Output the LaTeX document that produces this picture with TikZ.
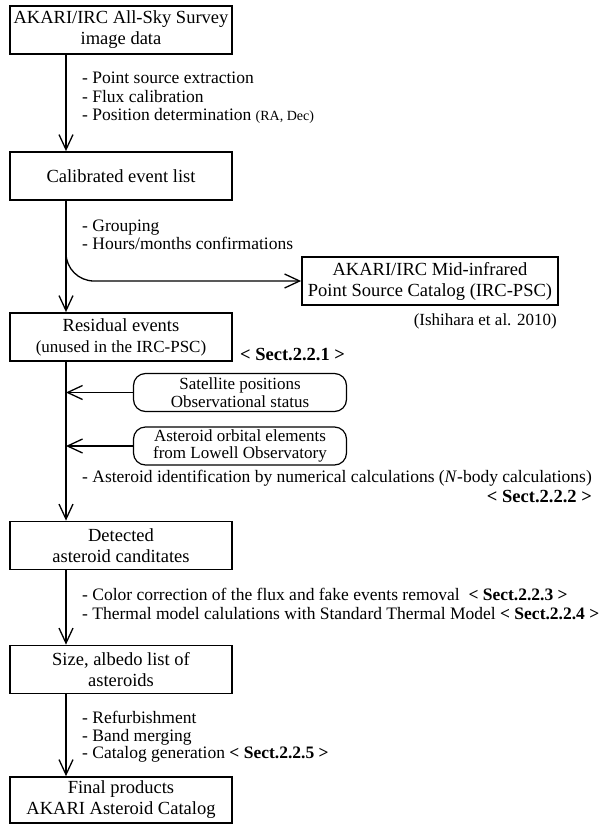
\documentclass[tikz,border=0pt]{standalone}
\usepackage{fontspec}
\setmainfont{Liberation Serif}
\usetikzlibrary{arrows.meta}
\begin{document}
\begin{tikzpicture}[x=1pt,y=-1pt,
    stepbox/.style={draw,line width=1.8pt,minimum width=222pt,minimum height=48pt,
      align=center,inner sep=2pt,font=\fontsize{18.5}{21}\selectfont},
    srcbox/.style={draw,line width=1.2pt,rounded corners=12pt,minimum width=213pt,
      minimum height=38pt,align=center,inner sep=1pt,font=\fontsize{17}{17.5}\selectfont},
    flow/.style={line width=1.3pt,-{Straight Barb[length=15pt,width=14pt,line width=1.3pt]}},
    note/.style={anchor=west,align=left,inner sep=0pt,font=\fontsize{17.5}{18.5}\selectfont},
    sect/.style={inner sep=0pt,font=\fontsize{18.5}{19}\selectfont\bfseries}]
  \useasboundingbox (0,0) rectangle (600,825);
  \coordinate (spine) at (66,0);
  \coordinate (fork) at (66,240);

  \node[stepbox] (survey) at (121,30) {AKARI/IRC All-Sky Survey\\image data};
  \node[stepbox] (events) at (121,176) {Calibrated event list};
  \node[stepbox] (residual) at (121,337) {Residual events\\{\fontsize{17}{18}\selectfont (unused in the IRC-PSC)}};
  \node[stepbox] (candidates) at (121,545.5) {Detected\\asteroid canditates};
  \node[stepbox] (sizes) at (121,669.5) {Size, albedo list of\\asteroids};
  \node[stepbox,minimum height=46pt] (final) at (121,800) {Final products\\AKARI Asteroid Catalog};

  \node[stepbox,minimum width=256pt] (psc) at (430,281) {AKARI/IRC Mid-infrared\\Point Source Catalog (IRC-PSC)};
  \node[anchor=east,inner sep=0pt,font=\fontsize{17}{18}\selectfont] (ishihara) at (557,321) {(Ishihara et al. 2010)};
  \node[srcbox] (satellite) at (240,392.5) {Satellite positions\\Observational status};
  \node[srcbox] (orbits) at (240,446) {Asteroid orbital elements\\from Lowell Observatory};

  \node[note] (extraction) at (82,98) {- Point source extraction\\- Flux calibration\\- Position determination {\fontsize{14}{14}\selectfont (RA, Dec)}};
  \node[note] (grouping) at (82,235) {- Grouping\\- Hours/months confirmations};
  \node[sect,anchor=west] (sect1) at (240,355) {< Sect.2.2.1 >};
  \node[note] (identify) at (82,478) {- Asteroid identification by numerical calculations (\textit{N}-body calculations)};
  \node[sect,anchor=east] (sect2) at (identify.east |- 0,496) {< Sect.2.2.2 >};
  \node[note] (thermal) at (82,604) {- Color correction of the flux and fake events removal \ \textbf{< Sect.2.2.3 >}\\- Thermal model calulations with Standard Thermal Model \textbf{< Sect.2.2.4 >}};
  \node[note,font=\fontsize{17.5}{17.5}\selectfont] (merging) at (82,737) {- Refurbishment\\- Band merging\\- Catalog generation \textbf{< Sect.2.2.5 >}};

  \draw[flow] (survey.south -| spine) -- (events.north -| spine);
  \draw[flow] (events.south -| spine) -- (residual.north -| spine);
  \draw[flow,rounded corners=28pt] (fork) |- (psc.west);
  \draw[flow] (residual.south -| spine) -- (candidates.north -| spine);
  \draw[flow] (satellite.west) -- (satellite.west -| spine);
  \draw[flow] (orbits.west) -- (orbits.west -| spine);
  \draw[flow] (candidates.south -| spine) -- (sizes.north -| spine);
  \draw[flow] (sizes.south -| spine) -- (final.north -| spine);
\end{tikzpicture}
\end{document}
